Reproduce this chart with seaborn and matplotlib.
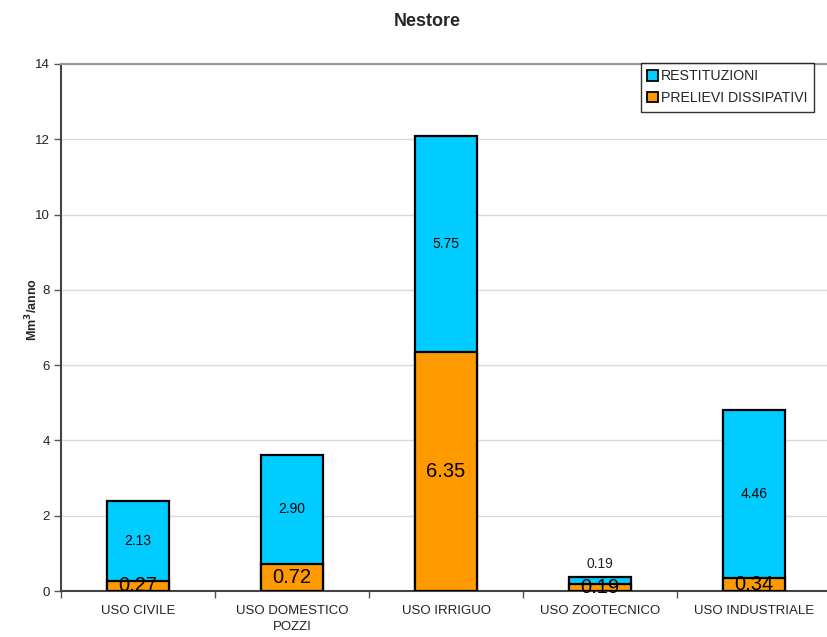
import matplotlib
matplotlib.use("Agg")
import matplotlib.pyplot as plt
import seaborn as sns
import pandas as pd
import numpy as np
from matplotlib.patches import Patch

# Water use by sector, Nestore basin (Mm3/year)
categories = ["USO CIVILE", "USO DOMESTICO\nPOZZI", "USO IRRIGUO", "USO ZOOTECNICO", "USO INDUSTRIALE"]
prelievi_dissipativi = [0.27, 0.72, 6.35, 0.19, 0.34]
restituzioni = [2.13, 2.90, 5.75, 0.19, 4.46]
yticks = [0, 2, 4, 6, 8, 10, 12, 14]

COL_REST = "#00CCFF"
COL_PREL = "#FF9900"

sns.set_theme(style="white")
plt.rcParams["font.family"] = ["Liberation Sans", "DejaVu Sans"]

df = pd.DataFrame({
    "categoria": categories,
    "prelievi": prelievi_dissipativi,
    "restituzioni": restituzioni,
})
df["totale"] = df["prelievi"] + df["restituzioni"]

W, H = 827, 637
fig = plt.figure(figsize=(W / 100, H / 100), dpi=100)
ax = fig.add_axes([61 / W, (H - 591) / H, 770 / W, 527 / H])

bar_kw = dict(width=0.4, edgecolor="black", linewidth=1.6, zorder=3)
# stacked bars: full height in cyan, dissipative withdrawals overlaid in orange
sns.barplot(data=df, x="categoria", y="totale", color=COL_REST, saturation=1,
            ax=ax, **bar_kw)
sns.barplot(data=df, x="categoria", y="prelievi", color=COL_PREL, saturation=1,
            ax=ax, **bar_kw)

ax.set_xlim(-0.5, len(categories) - 0.5)
ax.set_ylim(0, 14)
ax.set_yticks(yticks)
ax.set_yticklabels([str(v) for v in yticks], fontsize=9.5, color="#222222")
ax.tick_params(axis="y", direction="out", length=5, width=1, color="#555555",
               left=True, pad=3)
ax.set_xticks(range(len(categories)))
ax.set_xticklabels(categories, fontsize=9.5, color="#222222", linespacing=1.45)
ax.set_xticks(np.arange(-0.5, len(categories)), minor=True)
ax.tick_params(axis="x", which="major", length=0, pad=10)
ax.tick_params(axis="x", which="minor", direction="out", length=5, width=1,
               color="#555555", bottom=True)
ax.set_xlabel("")
ax.set_ylabel("")

ax.yaxis.grid(True, color="#d9d9d9", linewidth=1, zorder=0)
ax.set_axisbelow(True)
for side in ["left", "bottom"]:
    ax.spines[side].set_color("#444444")
    ax.spines[side].set_linewidth(1.5)
ax.spines["top"].set_color("#999999")
ax.spines["top"].set_linewidth(1.5)
ax.spines["right"].set_visible(False)

# value labels
for i, (p, r) in enumerate(zip(prelievi_dissipativi, restituzioni)):
    ax.text(i, p / 2, f"{p:.2f}", ha="center", va="center", fontsize=14.5,
            color="black", zorder=5)
    if r > 1:
        ax.text(i, p + r / 2, f"{r:.2f}", ha="center", va="center", fontsize=10,
                color="black", zorder=5)
    else:
        ax.annotate(f"{r:.2f}", xy=(i, p + r), xytext=(0, 4),
                    textcoords="offset points", ha="center", va="bottom",
                    fontsize=10, color="#222222", zorder=5)

handles = [Patch(facecolor=COL_REST, edgecolor="black", linewidth=1.3, label="RESTITUZIONI"),
           Patch(facecolor=COL_PREL, edgecolor="black", linewidth=1.3, label="PRELIEVI DISSIPATIVI")]
leg = ax.legend(handles=handles, loc="upper left",
                bbox_to_anchor=(641 / W, (H - 63) / H), bbox_transform=fig.transFigure,
                fontsize=10.2, frameon=True, fancybox=False, handlelength=0.75,
                handleheight=0.75, handletextpad=0.2, borderpad=0.45,
                labelspacing=0.55, borderaxespad=0)
leg.get_frame().set_edgecolor("black")
leg.get_frame().set_linewidth(1)

fig.text(427 / W, (H - 22) / H, "Nestore", ha="center", va="center",
         fontsize=13, fontweight="bold")
fig.text(32 / W, (H - 310) / H, "Mm$^{\\mathbf{3}}$/anno", ha="center", va="center",
         rotation=90, fontsize=9, fontweight="bold")

fig.savefig("out.png", dpi=100)
